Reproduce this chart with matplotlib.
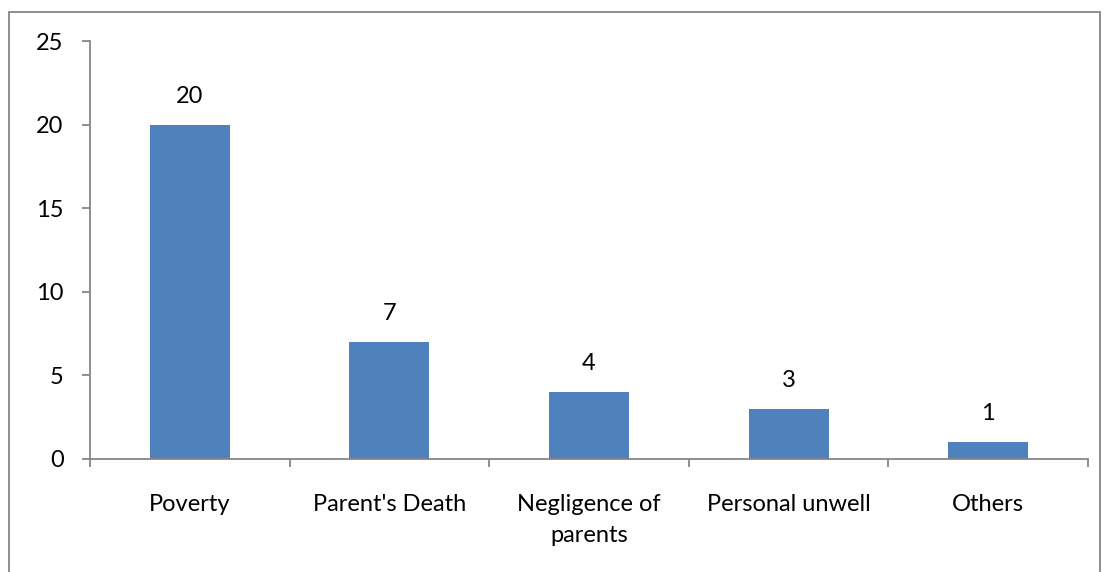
import matplotlib.pyplot as plt
from matplotlib.patches import Rectangle

plt.rcParams['font.family'] = ['Lato', 'DejaVu Sans']

categories = ["Poverty", "Parent's Death", "Negligence of\nparents", "Personal unwell", "Others"]
values = [20, 7, 4, 3, 1]

bar_color = '#4F81BD'
axis_color = '#868686'

fig = plt.figure(figsize=(11.04, 5.72), dpi=100)
ax = fig.add_axes([0.0815, 0.1976, 0.904, 0.7307])

x = range(len(categories))
ax.bar(x, values, width=0.4, color=bar_color, zorder=2)

for i, v in enumerate(values):
    ax.annotate(str(v), (i, v), xytext=(0, 13), textcoords='offset points',
                ha='center', va='bottom', fontsize=17)

ax.set_xlim(-0.5, len(categories) - 0.5)
ax.set_ylim(0, 25)
ax.set_yticks([0, 5, 10, 15, 20, 25])
# category ticks sit between the bars, labels centred under them
ax.set_xticks([i + 0.5 for i in range(-1, len(categories))], minor=False)
ax.set_xticklabels([])
ax.set_xticks(list(x), minor=True)
ax.set_xticklabels(categories, minor=True, linespacing=1.6, va='top')
ax.tick_params(axis='x', which='minor', length=0, pad=25, labelsize=17)
ax.tick_params(axis='x', which='major', length=6, color=axis_color, width=1.3)
ax.tick_params(axis='y', length=6, color=axis_color, width=1.3, labelsize=17, pad=13)

for s in ['top', 'right']:
    ax.spines[s].set_visible(False)
for s in ['left', 'bottom']:
    ax.spines[s].set_color(axis_color)
    ax.spines[s].set_linewidth(1.3)

# outer chart border
fig.patches.append(Rectangle((9 / 1104, -0.05), 1091 / 1104, 1.05 - 12 / 572,
                             transform=fig.transFigure, fill=False,
                             edgecolor=axis_color, linewidth=1.3))

fig.savefig('out.png', dpi=100)
